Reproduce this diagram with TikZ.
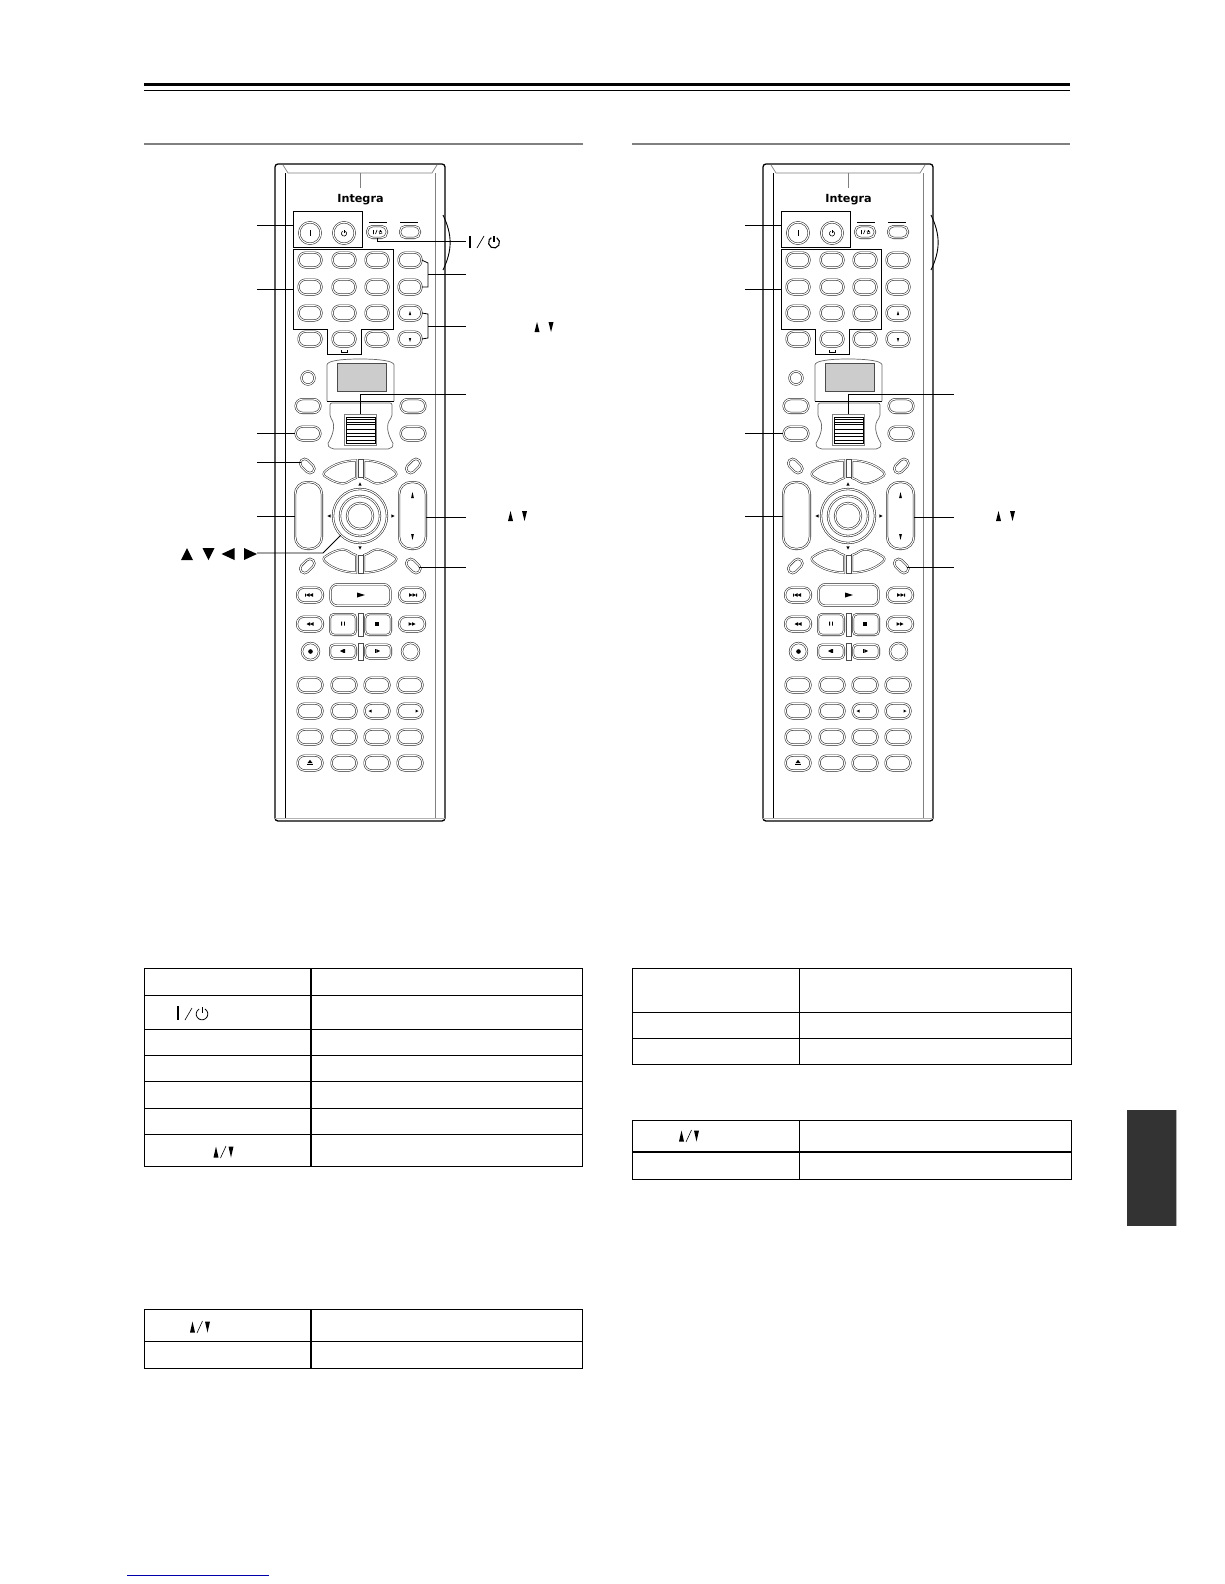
\documentclass[tikz,border=0pt]{standalone}
\usepackage{fontspec}
\usepackage{xcolor}
\usetikzlibrary{positioning}
\newfontfamily\logofont{DejaVu Sans}
\definecolor{tabgray}{HTML}{333333}
\definecolor{linkblue}{HTML}{0000AA}
\tikzset{
  keypill/.style={draw=black!85, double, double distance=1.1pt, line width=0.55pt, rounded corners=7pt, minimum width=22.8pt, minimum height=14.8pt, inner sep=0pt},
  keywide/.style={keypill, minimum width=24.8pt, minimum height=13.8pt},
  keysmall/.style={keypill, minimum width=19.8pt, minimum height=11.8pt, rounded corners=5.5pt},
  keydiag/.style={keypill, minimum width=16.5pt, minimum height=9pt, rounded corners=4.5pt},
  keytall/.style={keypill, minimum width=26.8pt, minimum height=66.8pt, rounded corners=12pt},
  keysquare/.style={keypill, minimum width=25.8pt, minimum height=20.8pt, rounded corners=4pt},
  keyflat/.style={keypill, minimum width=25.8pt, minimum height=13.8pt, rounded corners=4pt},
  keyround/.style={draw=black!85, double, double distance=1.1pt, line width=0.55pt, circle, inner sep=0pt},
  boxframe/.style={draw, line width=0.8pt, inner sep=0pt},
  calline/.style={draw, line width=0.8pt},
  stripline/.style={draw=black!70, line width=0.45pt},
  trimark/.pic={\fill (-1,-1) -- (1,0) -- (-1,1) -- cycle;},
  powermark/.pic={\draw (0.5,-0.866) arc[start angle=-60, end angle=240, radius=1]; \draw (0,-1.2) -- (0,-0.1);},
  skipmark/.pic={\fill (-5,-1.5) rectangle (-4.2,1.5) (-4.2,0) -- (-0.5,-1.8) -- (-0.5,1.8) -- cycle (-0.5,0) -- (3,-1.8) -- (3,1.8) -- cycle;},
  seekmark/.pic={\fill (-3.5,0) -- (0,-1.8) -- (0,1.8) -- cycle (0,0) -- (3.5,-1.8) -- (3.5,1.8) -- cycle;},
  stepmark/.pic={\fill (-3,0) -- (0.5,-1.8) -- (0.5,1.8) -- cycle (0.8,-1.8) rectangle (2,1.8);}
}
% one remote, the callouts are added per scope
\newcommand{\remotebody}{
  \draw[line width=1.3pt, rounded corners=3pt] (275,821) -- (275,164) -- (445,164) -- (445,821) -- cycle;
  \draw[gray, line width=0.7pt] (283,165) -- (288,173) -- (432,173) -- (437,165);
  \draw[line width=0.6pt] (285,173) -- (285,818);
  \draw[gray, line width=0.9pt] (435,173) -- (435,818);
  \draw[gray!60, line width=0.9pt] (275,818) -- (445,818);
  \draw[gray, line width=1pt] (360,173) -- (360,188);
  \draw[line width=0.9pt] (443,215) .. controls (452.5,235) and (452.5,250) .. (443,270);
  \node[font=\logofont\bfseries, scale=1.12, inner sep=0pt] (logo) at (360.5,199.5) {Integra};
  % top row
  \node[boxframe, minimum width=69pt, minimum height=36pt] (pwrbox) at (327.5,229) {};
  \node[keyround, minimum size=21.5pt] (onkey) at (310,233) {};
  \node[keyround, minimum size=21.5pt] (offkey) at (344,233) {};
  \draw[line width=0.8pt] (310,230) -- (310,236);
  \pic[scale=2.6, line width=0.6pt] at (344,233.5) {powermark};
  \node[keysmall] (modea) at (377,232) {};
  \node[keysmall] (modeb) at (410,232) {};
  \draw[line width=0.6pt] (369,222) -- (387,222) (400,222) -- (418,222);
  \draw[line width=0.6pt] (373.5,230) -- (373.5,234) (375.5,234) -- (377,230);
  \pic[scale=1.7, line width=0.5pt] at (380.5,232.3) {powermark};
  % number keys
  \foreach \r/\y in {1/260,2/287,3/313,4/339} {
    \foreach \c/\x in {1/310,2/344,3/377,4/410} {
      \node[keypill] (key\r\c) at (\x,\y) {};
    }
  }
  \draw[boxframe] (293,249) -- (393,249) -- (393,329) -- (361,329) -- (361,354) -- (327,354) -- (327,329) -- (293,329) -- cycle;
  \coordinate (numbox) at (293,289);
  \draw[line width=0.6pt] (341,350) -- (341,352) -- (347,352) -- (347,350);
  \pic[rotate=90, xscale=2, yscale=1.2] at (410,313) {trimark};
  \pic[rotate=-90, xscale=2, yscale=1.2] at (410,340) {trimark};
  % display and scroller
  \node[keyround, minimum size=13pt] (lightkey) at (308,378) {};
  \draw[gray!80!black, line width=0.7pt] (327,401) -- (327,365) .. controls (327,361) and (340,359) .. (360,359) .. controls (380,359) and (394,361) .. (394,365) -- (394,401);
  \draw[line width=0.9pt] (327,401) -- (394,401);
  \fill[gray!40, draw=black!70, line width=0.4pt] (337,363) rectangle (386,391);
  \draw[gray!80!black, line width=0.7pt, rounded corners=2pt] (330,403) -- (392,403) -- (392,417) .. controls (385,425) and (388,435) .. (394,445) -- (390,449) -- (332,449) -- (327,445) .. controls (333,435) and (336,425) .. (330,417) -- cycle;
  \node[draw=gray, fill=white, line width=1pt, minimum width=32pt, minimum height=31pt, inner sep=0pt] (scrollwheel) at (360.5,430) {};
  \draw[line width=0.7pt] (346,417) rectangle (375,443.5);
  \foreach \y in {419.5,422,424.5,429,433,436.5,440} { \draw[line width=0.7pt] (346,\y) -- (375,\y); }
  \foreach \y/\n in {406/a,433.5/b} {
    \node[keywide] (side\n l) at (308,\y) {};
    \node[keywide] (side\n r) at (413,\y) {};
  }
  % navigation
  \node[keydiag, rotate=-45] (diagtl) at (307.3,466) {};
  \node[keydiag, rotate=45] (diagtr) at (413.3,466) {};
  \node[keydiag, rotate=45] (diagbl) at (307.3,566) {};
  \node[keydiag, rotate=-45] (diagbr) at (413.3,566) {};
  \foreach \sx in {1,-1} { \foreach \sy in {1,-1} {
    \begin{scope}[shift={(360,516.5)}, xscale=\sx, yscale=\sy]
      \draw[draw=black!85, double, double distance=1pt, line width=0.5pt] (-4,-56) .. controls (-16,-56) and (-27,-52) .. (-34,-46) .. controls (-37.5,-43.5) and (-37,-41) .. (-34,-39.5) .. controls (-28,-35.5) and (-22,-33) .. (-17,-33) .. controls (-12,-33) and (-9,-37.5) .. (-4,-38.5) -- cycle;
    \end{scope}
  } }
  \draw[stripline] (358,459) rectangle (362.8,477) (358,555) rectangle (362.8,573);
  \node[keytall] (talll) at (308.5,515.5) {};
  \node[keytall] (tallr) at (412.5,515.5) {};
  \pic[rotate=90, xscale=3, yscale=1.4] at (412.5,495) {trimark};
  \pic[rotate=-90, xscale=3, yscale=1.4] at (412.5,537) {trimark};
  \node[keyround, minimum size=54pt] (dial) at (360,516) {};
  \node[keyround, minimum size=40pt] (dialb) at (360,516) {};
  \node[keyround, minimum size=26pt] (dialc) at (360,516) {};
  \pic[rotate=90, scale=1.6] at (360,484) {trimark};
  \pic[rotate=-90, scale=1.6] at (360,548) {trimark};
  \pic[rotate=180, scale=1.6] at (329,516) {trimark};
  \pic[scale=1.6] at (393,516) {trimark};
  % transport
  \node[keypill, minimum width=25.8pt] (prevkey) at (310,595) {};
  \node[keypill, minimum width=25.8pt] (nextkey) at (412,595) {};
  \node[keypill, minimum width=25.8pt] (revkey) at (310,624) {};
  \node[keypill, minimum width=25.8pt] (fwdkey) at (412,624) {};
  \node[keypill, minimum width=60pt, minimum height=21.5pt, rounded corners=7pt] (playkey) at (360.5,595) {};
  \node[keysquare] (pausekey) at (343,624.5) {};
  \node[keysquare] (stopkey) at (378,624.5) {};
  \node[keyflat] (stepa) at (343,651.5) {};
  \node[keyflat] (stepb) at (378,651.5) {};
  \node[keyround, minimum size=17pt] (reckey) at (310.5,651.5) {};
  \node[keyround, minimum size=17pt] (roundkey) at (410.5,651.5) {};
  \draw[stripline] (358,613) rectangle (362.8,636) (358,643.5) rectangle (362.8,660);
  \pic at (310,595) {skipmark};
  \pic[rotate=180] at (412,595) {skipmark};
  \pic at (310,624) {seekmark};
  \pic[rotate=180] at (412,624) {seekmark};
  \pic[xscale=4, yscale=2.5] at (361,595) {trimark};
  \fill (341.2,621.5) rectangle (342,625.5) (344,621.5) rectangle (344.8,625.5);
  \fill (375,621.5) rectangle (379,625.5);
  \pic at (343,651) {stepmark};
  \pic[rotate=180] at (377,651) {stepmark};
  \fill (310.5,651.5) circle[radius=2.3];
  % lower keys
  \foreach \r/\y in {1/685,2/711,3/737,4/763} {
    \foreach \c/\x in {1/310,2/344,3/377,4/410} {
      \node[keypill, minimum width=24.8pt] (low\r\c) at (\x,\y) {};
    }
  }
  \pic[rotate=180, scale=1.5] at (370,711) {trimark};
  \pic[scale=1.5] at (417,711) {trimark};
  \pic[rotate=90, xscale=1.7, yscale=2.6] at (310,761.5) {trimark};
  \fill (307,764) rectangle (313,765);
}
\begin{document}
\begin{tikzpicture}[x=1pt, y=-1pt]
\useasboundingbox (0,0) rectangle (1224,1584);
\fill[black] (144,83) rectangle (1070,86);
\draw[line width=1pt] (144,91) -- (1070,91);
\draw[gray, line width=1.6pt] (144,144) -- (583,144) (632,144) -- (1070,144);
% left remote
\begin{scope}[name prefix=l-]
  \remotebody
  \coordinate (capwr) at (257,225);
  \coordinate (canum) at (257,289);
  \coordinate (caside) at (257,433.5);
  \coordinate (cadiag) at (257,462);
  \coordinate (catall) at (257,516);
  \coordinate (caarrow) at (257,553);
  \coordinate (caarrowb) at (323,553);
  \coordinate (carst) at (466,241);
  \coordinate (cabra) at (466,274);
  \coordinate (cabrb) at (466,326);
  \coordinate (cascroll) at (466,394);
  \coordinate (catallr) at (466,517);
  \coordinate (cadiagr) at (466,567);
  \coordinate (caknee) at (377,241);
  \coordinate (caknsc) at (360.5,394);
  \draw[calline] (capwr) -- (capwr -| pwrbox.west);
  \draw[calline] (canum) -- (numbox);
  \draw[calline] (caside) -- (sidebl.west);
  \draw[calline] (cadiag) -- (cadiag -| diagtl.west);
  \draw[calline] (catall) -- (talll.west |- catall);
  \draw[calline] (caarrow) -- (caarrowb) -- (dial.225);
  \draw[calline] (modea.south) -- (caknee) -- (carst);
  \draw[calline] (key14.east) -- (428,263) -- (428,287) -- (key24.east);
  \draw[calline] (428,274) -- (cabra);
  \draw[calline] (key34.east) -- (428,314) -- (428,338) -- (key44.east);
  \draw[calline] (428,326) -- (cabrb);
  \draw[calline] (scrollwheel.north) -- (caknsc) -- (cascroll);
  \draw[calline] (tallr.east |- catallr) -- (catallr);
  \draw[calline] (cadiagr -| diagbr.east) -- (cadiagr);
  % glyphs beside the callouts
  \draw[line width=1.2pt] (470,236) -- (470,248);
  \draw[line width=0.7pt] (477,248) -- (484,236);
  \pic[scale=5.5, line width=1.1pt] at (494,242.5) {powermark};
  \pic[rotate=90, xscale=5, yscale=2.5] at (537,327) {trimark};
  \pic[rotate=-90, xscale=5, yscale=2.5] at (551,327) {trimark};
  \pic[rotate=90, xscale=6, yscale=6] at (187,554) {trimark};
  \pic[rotate=-90, xscale=6, yscale=6] at (208.5,554) {trimark};
  \pic[rotate=180, xscale=6.5, yscale=6] at (228,554) {trimark};
  \pic[xscale=6.5, yscale=6] at (250.5,554) {trimark};
  \pic[rotate=90, xscale=5, yscale=2.5] at (510.5,516) {trimark};
  \pic[rotate=-90, xscale=5, yscale=2.5] at (524.5,516) {trimark};
\end{scope}
% right remote
\begin{scope}[shift={(488,0)}, name prefix=r-]
  \remotebody
  \coordinate (capwr) at (257,225);
  \coordinate (canum) at (257,289);
  \coordinate (caside) at (257,433.5);
  \coordinate (catall) at (257,516);
  \coordinate (cascroll) at (466,394);
  \coordinate (caknsc) at (360.5,394);
  \coordinate (catallr) at (466,517);
  \coordinate (cadiagr) at (466,567);
  \draw[calline] (capwr) -- (capwr -| pwrbox.west);
  \draw[calline] (canum) -- (numbox);
  \draw[calline] (caside) -- (sidebl.west);
  \draw[calline] (catall) -- (talll.west |- catall);
  \draw[calline] (scrollwheel.north) -- (caknsc) -- (cascroll);
  \draw[calline] (tallr.east |- catallr) -- (catallr);
  \draw[calline] (cadiagr -| diagbr.east) -- (cadiagr);
  \pic[rotate=90, xscale=5, yscale=2.5] at (510.5,516) {trimark};
  \pic[rotate=-90, xscale=5, yscale=2.5] at (524.5,516) {trimark};
\end{scope}
% tables
\draw[line width=0.8pt] (144,968) rectangle (582,1166);
\foreach \y in {995,1029,1055,1081,1108,1134} {\draw[line width=0.8pt] (144,\y) -- (582,\y);}
\draw[line width=1.6pt] (311,968) -- (311,1166);
\draw[line width=0.8pt] (144,1309) rectangle (582,1368);
\draw[line width=0.8pt] (144,1341) -- (582,1341);
\draw[line width=1.6pt] (311,1309) -- (311,1368);
\draw[line width=0.8pt] (632,968) rectangle (1071,1064);
\foreach \y in {1012,1038} {\draw[line width=0.8pt] (632,\y) -- (1071,\y);}
\draw[line width=1pt] (799,968) -- (799,1064);
\draw[line width=0.8pt] (632,1120) rectangle (1071,1179);
\draw[line width=1.6pt] (632,1152) -- (1071,1152);
\draw[line width=1pt] (799,1120) -- (799,1179);
% table glyphs
\draw[line width=1.2pt] (178,1006) -- (178,1020);
\draw[line width=0.6pt] (185,1020) -- (192,1008);
\pic[scale=5.8, line width=0.8pt] at (202,1014) {powermark};
\foreach \x/\y in {216/1152,192.5/1327,681.5/1136} {
  \pic[rotate=90, xscale=5.5, yscale=2.5] at (\x,\y) {trimark};
  \pic[rotate=-90, xscale=5.5, yscale=2.5] at (\x+15,\y) {trimark};
  \draw[line width=0.6pt] (\x+4.5,\y+6) -- (\x+10,\y-6);
}
\fill[tabgray] (1127,1110) rectangle (1176,1226);
\draw[gray!60, line width=0.8pt] (1176.5,1110) -- (1176.5,1226);
\draw[linkblue, line width=1pt] (127,1575) -- (269,1575);
\end{tikzpicture}
\end{document}
